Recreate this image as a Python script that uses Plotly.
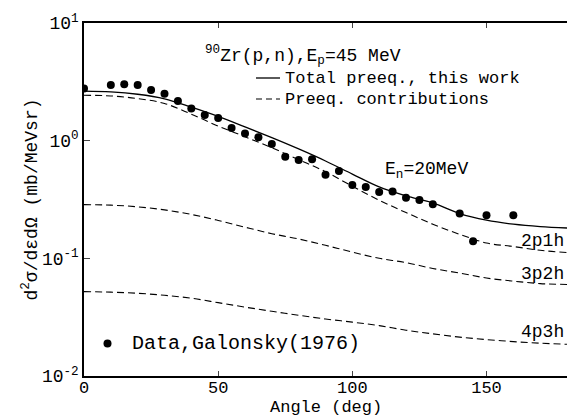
import plotly.graph_objects as go

# Data points (Galonsky 1976)
data_angle = [0, 10, 15, 20, 25, 30, 35, 40, 45, 50, 55, 60, 65, 70, 75, 80, 85, 90,
              95, 100, 105, 110, 115, 120, 125, 130, 140, 145, 150, 160]
data_xs = [2.78, 2.97, 3.01, 2.97, 2.69, 2.51, 2.17, 1.88, 1.65, 1.56, 1.28, 1.15,
           1.07, 0.935, 0.731, 0.684, 0.694, 0.514, 0.552, 0.420, 0.403, 0.366,
           0.369, 0.328, 0.313, 0.288, 0.241, 0.140, 0.232, 0.232]

# Model curves
curve_angle = [0, 10, 20, 30, 40, 50, 60, 70, 80, 90, 100, 110, 120, 130, 140, 150, 160, 170, 180]
total = [2.64, 2.60, 2.48, 2.27, 1.93, 1.61, 1.31, 1.06, 0.85, 0.672, 0.52, 0.405,
         0.340, 0.296, 0.240, 0.211, 0.195, 0.186, 0.181]
c_2p1h = [2.43, 2.40, 2.28, 2.07, 1.68, 1.33, 1.08, 0.87, 0.69, 0.545, 0.410, 0.312,
          0.245, 0.195, 0.160, 0.135, 0.126, 0.117, 0.112]
c_3p2h = [0.286, 0.283, 0.274, 0.258, 0.236, 0.210, 0.184, 0.162, 0.146, 0.129, 0.113,
          0.100, 0.092, 0.082, 0.075, 0.068, 0.064, 0.061, 0.060]
c_4p3h = [0.0521, 0.0516, 0.0505, 0.0485, 0.0458, 0.0420, 0.0385, 0.0355, 0.0328,
          0.0305, 0.0287, 0.0268, 0.0245, 0.0228, 0.0214, 0.0204, 0.0196, 0.0190, 0.0186]

x_ticks = [0, 50, 100, 150]
y_ticks = [0.01, 0.1, 1, 10]
y_ticktext = ["10<sup>-2</sup>", "10<sup>-1</sup>", "10<sup>0</sup>", "10<sup>1</sup>"]

FONT = "Liberation Mono, Courier New, monospace"
DASH = "7px,4px"

fig = go.Figure()
fig.add_trace(go.Scatter(x=curve_angle, y=total, mode="lines",
                         line=dict(color="black", width=1.3, shape="spline"), showlegend=False))
for c in (c_2p1h, c_3p2h, c_4p3h):
    fig.add_trace(go.Scatter(x=curve_angle, y=c, mode="lines",
                             line=dict(color="black", width=1.1, dash=DASH, shape="spline"), showlegend=False))
fig.add_trace(go.Scatter(x=data_angle, y=data_xs, mode="markers",
                         marker=dict(color="black", size=8), showlegend=False))

L, R, T, B = 84, 0, 23, 42
W, H = 567, 418
pw, ph = W - L - R, H - T - B


def px(x):
    return (x - L) / pw


def py(y):
    return (H - B - y) / ph


ann = []


def text(x, y, s, size, anchor="left", yanchor="middle"):
    ann.append(dict(x=px(x), y=py(y), xref="paper", yref="paper", text=s, showarrow=False,
                    xanchor=anchor, yanchor=yanchor, borderpad=0,
                    font=dict(family=FONT, size=size, color="black")))


text(204, 55, "<sup>90</sup>Zr(p,n),E<sub>p</sub>=45 MeV", 18)
text(284, 78, "Total preeq., this work", 17)
text(284, 99, "Preeq. contributions", 17)
text(131, 343, "Data,Galonsky(1976)", 20)
text(384, 170, "E<sub>n</sub>=20MeV", 18)
text(565, 241, "2p1h", 18, "right")
text(565, 274, "3p2h", 18, "right")
text(565, 332, "4p3h", 18, "right")
text(326, 418, "Angle (deg)", 17, "center", "bottom")

shapes = [
    dict(type="line", xref="paper", yref="paper", x0=px(256), x1=px(280), y0=py(78), y1=py(78),
         line=dict(color="black", width=1.3)),
    dict(type="line", xref="paper", yref="paper", x0=px(256), x1=px(280), y0=py(99), y1=py(99),
         line=dict(color="black", width=1.1, dash="6px,4px")),
    dict(type="circle", xref="paper", yref="paper", x0=px(103.5), x1=px(111.5), y0=py(347.5), y1=py(339.5),
         fillcolor="black", line=dict(color="black", width=0)),
]

fig.update_layout(
    width=W, height=H,
    margin=dict(l=L, r=R, t=T, b=B),
    paper_bgcolor="white", plot_bgcolor="white",
    font=dict(family=FONT, size=17, color="black"),
    annotations=ann, shapes=shapes,
    xaxis=dict(range=[0, 180], tickvals=x_ticks, ticks="inside", ticklen=5, tickwidth=1,
               showline=True, linecolor="black", linewidth=1.5, mirror="ticks", showgrid=False,
               zeroline=False, tickfont=dict(family=FONT, size=17), ticklabelstandoff=-5),
    yaxis=dict(type="log", range=[-2, 1], tickvals=y_ticks, ticktext=y_ticktext,
               ticks="inside", ticklen=6, tickwidth=1, showline=True, linecolor="black",
               linewidth=1.5, showgrid=False, zeroline=False, tickfont=dict(family=FONT, size=18),
               title=dict(text="d<sup>2</sup>σ/dεdΩ (mb/MeVsr)", font=dict(family=FONT, size=18), standoff=0)),
)

fig.write_html("out.html", config={"displayModeBar": False},
               post_script="document.body.style.margin='0';document.body.style.overflow='hidden';")
